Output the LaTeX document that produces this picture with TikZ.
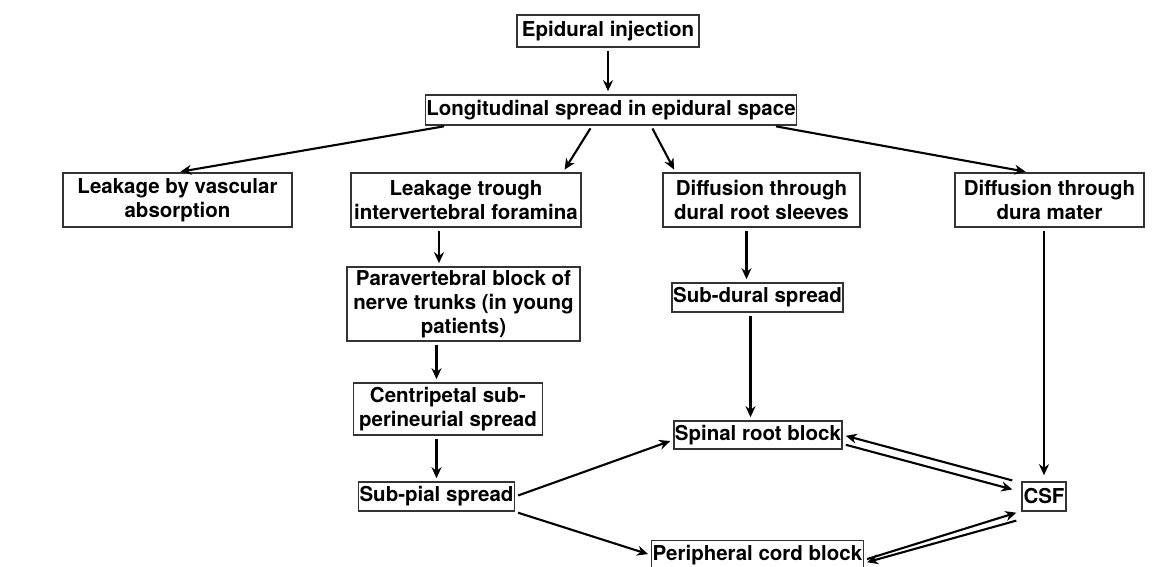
\documentclass[tikz,border=0pt]{standalone}
\usepackage{fontspec}
\setmainfont{TeX Gyre Heros}
\usetikzlibrary{positioning,arrows.meta}
\tikzset{%
  stage/.style={draw=black!80, line width=1.6pt, rectangle, inner sep=1pt,
    align=center, font=\fontsize{20.5}{24}\selectfont\bfseries},% one step of the spread
  flow/.style={line width=2.1pt, -{Stealth[length=11pt,width=10pt]},
    shorten >=3pt, shorten <=3pt}% arrow between steps
}

\begin{document}
\begin{tikzpicture}[x=1pt, y=-1pt]
\useasboundingbox (0,0) rectangle (1156,566);

\node[stage, minimum width=182, minimum height=32] (inj)     at (608,31)      {Epidural injection};
\node[stage, minimum width=364, minimum height=30] (spread)  at (611,110)     {Longitudinal spread in epidural space};

\node[stage, minimum width=229, minimum height=54] (vasc)    at (177.5,200)   {Leakage by vascular\\absorption};
\node[stage, minimum width=230, minimum height=54] (foram)   at (466,200)     {Leakage trough\\intervertebral foramina};
\node[stage, minimum width=197, minimum height=54] (sleeve)  at (761.5,200)   {Diffusion through\\dural root sleeves};
\node[stage, minimum width=189, minimum height=54] (dura)    at (1049.5,200)  {Diffusion through\\dura mater};

\node[stage, minimum width=233, minimum height=74] (para)    at (463.5,304)   {Paravertebral block of\\nerve trunks (in young\\patients)};
\node[stage, minimum width=189, minimum height=52] (cent)    at (448,409)     {Centripetal sub-\\perineurial spread};
\node[stage, minimum width=147, minimum height=29] (pial)    at (436.5,496.5) {Sub-pial spread};
\node[stage, minimum width=161, minimum height=29] (subdur)  at (757.5,297.5) {Sub-dural spread};
\node[stage, minimum width=158, minimum height=28] (root)    at (758,435)     {Spinal root block};
\node[stage, minimum width=44,  minimum height=29] (csf)     at (1044,496.5)  {CSF};
\node[stage, minimum width=199, minimum height=29] (cord)    at (757.5,555)   {Peripheral cord block};

% main branch
\draw[flow] (inj.south) -- (inj.south |- spread.north);
\draw[flow] ([xshift=-164pt]spread.south) -- (vasc.north);
\draw[flow] ([xshift=-19pt]spread.south) -- ([xshift=97pt]foram.north);
\draw[flow] ([xshift=40pt]spread.south) -- ([xshift=-86pt]sleeve.north);
\draw[flow] ([xshift=162pt]spread.south) -- ([xshift=-21pt]dura.north);

% foramina path
\draw[flow] ([xshift=-27pt]foram.south) -- ([xshift=-27pt]foram.south |- para.north);
\draw[flow] ([xshift=-27pt]para.south) -- ([xshift=-27pt]para.south |- cent.north);
\draw[flow] (cent.south -| pial.north) -- (pial.north);

% root sleeves and dura
\draw[flow] ([xshift=-15pt]sleeve.south) -- ([xshift=-15pt]sleeve.south |- subdur.north);
\draw[flow] ([xshift=-7pt]subdur.south) -- ([xshift=-7pt]subdur.south |- root.north);
\draw[flow, shorten >=6pt] (dura.south -| csf.north) -- (csf.north);

% sub-pial to the blocks
\draw[flow] (pial.east) -- ([yshift=-5pt]root.west);
\draw[flow] (pial.south east) -- (cord.west);

% exchange with CSF
\draw[flow] ([xshift=-6pt]csf.north west) -- (root.east);
\draw[flow] ([yshift=-9pt]root.east) -- ([xshift=-6pt,yshift=-9pt]csf.north west);
\draw[flow] ([yshift=-5pt]cord.east) -- ([xshift=-2pt]csf.south west);
\draw[flow] ([xshift=-2pt,yshift=-8pt]csf.south west) -- ([yshift=-8pt]cord.east);

\end{tikzpicture}
\end{document}
